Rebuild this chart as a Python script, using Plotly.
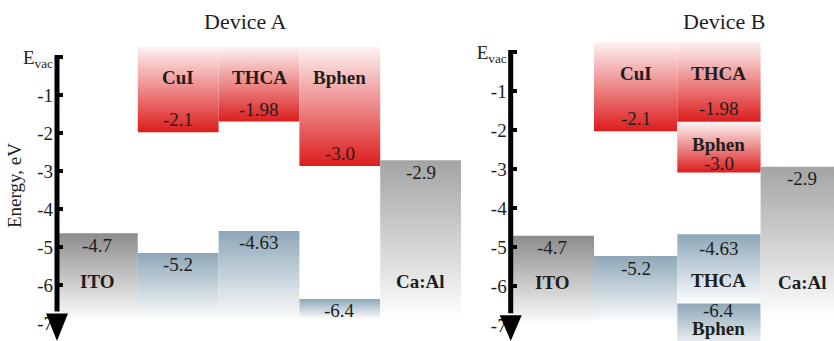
import plotly.graph_objects as go

# ---------------- data ----------------
# Device A: columns ITO, CuI, THCA, Bphen, Ca:Al
A_box_col    = [0, 1, 1, 2, 2, 3, 3, 4]
A_box_kind   = ["ito", "lumo", "homo", "lumo", "homo", "lumo", "homo", "cathode"]
A_box_top    = [-4.64, 0.27, -5.16, 0.27, -4.58, 0.27, -6.37, -2.72]
A_box_bottom = [-6.85, -1.98, -6.85, -1.70, -6.85, -2.87, -6.87, -6.75]
A_box_value  = ["-4.7", "-2.1", "-5.2", "-1.98", "-4.63", "-3.0", "-6.4", "-2.9"]
A_box_name   = ["ITO", "CuI", "", "THCA", "", "Bphen", "", "Ca:Al"]

# Device B: columns ITO, CuI, THCA/Bphen, Ca:Al
B_box_col    = [0, 1, 1, 2, 2, 2, 2, 3]
B_box_kind   = ["ito", "lumo", "homo", "lumo", "lumo", "homo", "homo", "cathode"]
B_box_top    = [-4.71, 0.26, -5.23, 0.26, -1.80, -4.67, -6.45, -2.94]
B_box_bottom = [-6.90, -2.03, -6.85, -1.79, -3.09, -6.38, -7.60, -6.70]
B_box_value  = ["-4.7", "-2.1", "-5.2", "-1.98", "-3.0", "-4.63", "-6.4", "-2.9"]
B_box_name   = ["ITO", "CuI", "", "THCA", "Bphen", "THCA", "Bphen", "Ca:Al"]

tick_vals = [0, -1, -2, -3, -4, -5, -6, -7]
tick_text = ["E<sub>vac</sub>", "-1", "-2", "-3", "-4", "-5", "-6", "-7"]
titles = ["Device A", "Device B"]

# ---------------- style / layout ----------------
W, H = 834, 341
FONT = "Liberation Serif"
TXT = "#1e1e1e"
VAL_SIZE = 19
NAME_SIZE = 19
GRAD = {
    "lumo":    [[0, "#dd1d1d"], [1, "#fdf3f3"]],
    "homo":    [[0, "#f8fafb"], [1, "#8ea7b8"]],
    "ito":     [[0, "#f9f9f9"], [1, "#8c8c8c"]],
    "cathode": [[0, "#fbfbfb"], [1, "#a4a4a4"]],
}
# panel geometry (pixels): axis x, column width, y of Evac, pixels per eV, right edge
PANELS = [
    dict(ax_x=57.0, col_w=80.8, y0=57.0, ppu=38.0, right=461.0, xa="x", ya="y"),
    dict(ax_x=510.7, col_w=83.3, y0=52.0, ppu=39.0, right=834.0, xa="x2", ya="y2"),
]
for p in PANELS:
    p["yr"] = [-(H - p["y0"]) / p["ppu"], p["y0"] / p["ppu"]]
    p["xr"] = [0, (p["right"] - p["ax_x"]) / p["col_w"]]

fig = go.Figure()
annotations = []
shapes = []

datasets = [
    (A_box_col, A_box_kind, A_box_top, A_box_bottom, A_box_value, A_box_name),
    (B_box_col, B_box_kind, B_box_top, B_box_bottom, B_box_value, B_box_name),
]

for p, (cols, kinds, tops, bots, vals, names) in zip(PANELS, datasets):
    for c, k, t, b, v, n in zip(cols, kinds, tops, bots, vals, names):
        fig.add_trace(go.Scatter(
            x=[c, c + 1, c + 1, c, c], y=[t, t, b, b, t],
            mode="lines", line=dict(width=0), fill="toself",
            fillgradient=dict(type="vertical", colorscale=GRAD[k]),
            hoverinfo="skip", showlegend=False, xaxis=p["xa"], yaxis=p["ya"]))
        # value label
        if k == "lumo":
            vy = b + (0.33 if t > 0 else 0.24)
        elif k == "homo" and n:
            vy = t - (0.38 if (t - b) > 1.2 else 0.18)
        else:
            vy = t - 0.31
        annotations.append(dict(x=c + 0.5, y=vy, xref=p["xa"], yref=p["ya"], text=v,
                                xanchor="center", yanchor="middle", showarrow=False,
                                font=dict(family=FONT, size=VAL_SIZE, color=TXT)))
        # name label
        if n:
            if k == "lumo":
                ny = -0.55 if t > 0 else t - 0.56
            elif k == "homo":
                ny = vy - 0.6 * (vy - max(b, p["yr"][0]))
            else:
                ny = -5.9
            annotations.append(dict(x=c + 0.5, y=ny, xref=p["xa"], yref=p["ya"],
                                    text="<b>" + n + "</b>", showarrow=False,
                                    xanchor="center", yanchor="middle",
                                    font=dict(family=FONT, size=NAME_SIZE, color=TXT)))

    # axis line + arrow (paper coords derived from the axis range)
    def yp(v, p=p):
        return (v - p["yr"][0]) / (p["yr"][1] - p["yr"][0])
    ax = p["ax_x"] / W
    shapes.append(dict(type="line", xref="paper", yref="paper", x0=ax, x1=ax,
                       y0=yp(0) + 2 / H, y1=yp(-6.7), line=dict(color="black", width=5)))
    base = yp(-6.75)
    tip = 0.0
    shapes.append(dict(type="path", xref="paper", yref="paper",
                       path=f"M {ax - 11 / W} {base} L {ax + 11 / W} {base} L {ax} {tip} Z",
                       fillcolor="black", line=dict(color="black", width=0)))

# titles
annotations.append(dict(x=245 / W, y=1 - 22 / H, xref="paper", yref="paper", text=titles[0],
                        xanchor="center", yanchor="middle", showarrow=False,
                        font=dict(family=FONT, size=22, color=TXT)))
annotations.append(dict(x=724 / W, y=1 - 22 / H, xref="paper", yref="paper", text=titles[1],
                        xanchor="center", yanchor="middle", showarrow=False,
                        font=dict(family=FONT, size=22, color=TXT)))
annotations.append(dict(x=14 / W, y=1 - 186 / H, xref="paper", yref="paper", text="Energy, eV",
                        xanchor="center", yanchor="middle", textangle=-90, showarrow=False,
                        font=dict(family=FONT, size=19, color=TXT)))

def yaxis_cfg(p):
    return dict(range=p["yr"], domain=[0, 1], showgrid=False, zeroline=False, showline=False,
                tickmode="array", tickvals=tick_vals, ticktext=tick_text,
                ticks="inside", ticklen=6, tickwidth=4, tickcolor="black",
                ticklabelstandoff=3,
                tickfont=dict(family=FONT, size=19, color=TXT))

def xaxis_cfg(p):
    return dict(range=p["xr"], domain=[p["ax_x"] / W, p["right"] / W],
                showgrid=False, zeroline=False, showline=False, showticklabels=False, ticks="")

fig.update_layout(
    width=W, height=H, margin=dict(l=0, r=0, t=0, b=0, autoexpand=False),
    paper_bgcolor="white", plot_bgcolor="rgba(0,0,0,0)",
    xaxis=xaxis_cfg(PANELS[0]), yaxis=dict(yaxis_cfg(PANELS[0]), anchor="x"),
    xaxis2=dict(xaxis_cfg(PANELS[1]), anchor="y2"), yaxis2=dict(yaxis_cfg(PANELS[1]), anchor="x2"),
    annotations=annotations, shapes=shapes, showlegend=False,
)
fig.write_html("out.html", config={"displayModeBar": False},
               post_script="document.body.style.margin='0px';")
